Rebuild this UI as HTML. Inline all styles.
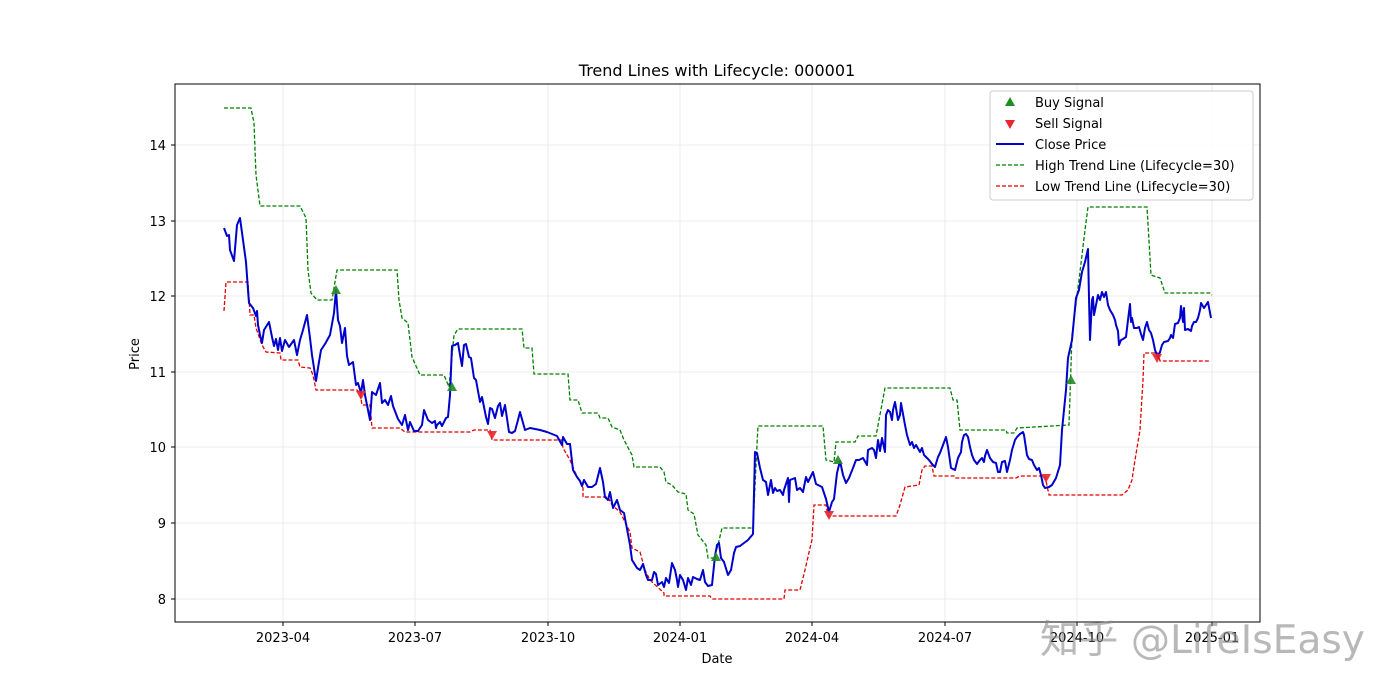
<!DOCTYPE html>
<html><head><meta charset="utf-8"><style>body{margin:0;background:#fff}svg{display:block}text{font-family:"DejaVu Sans","Liberation Sans",sans-serif}</style></head><body>
<svg width="1400" height="700" viewBox="0 0 1400 700" xmlns="http://www.w3.org/2000/svg">
<rect width="1400" height="700" fill="#fff"/>
<g stroke="#e6e6e6" stroke-width="0.8">
<line x1="283" y1="84" x2="283" y2="622"/><line x1="415" y1="84" x2="415" y2="622"/><line x1="548" y1="84" x2="548" y2="622"/><line x1="680" y1="84" x2="680" y2="622"/><line x1="812" y1="84" x2="812" y2="622"/><line x1="945" y1="84" x2="945" y2="622"/><line x1="1077" y1="84" x2="1077" y2="622"/><line x1="1212" y1="84" x2="1212" y2="622"/>
<line x1="175" y1="145" x2="1260" y2="145"/><line x1="175" y1="221" x2="1260" y2="221"/><line x1="175" y1="296" x2="1260" y2="296"/><line x1="175" y1="372" x2="1260" y2="372"/><line x1="175" y1="447" x2="1260" y2="447"/><line x1="175" y1="523" x2="1260" y2="523"/><line x1="175" y1="599" x2="1260" y2="599"/>
</g>
<g fill="none" stroke-width="1.3" stroke-dasharray="4,2">
<polyline stroke="#008000" points="224,108 251,108 254,123 256,175 260,206 300,206 306,218 308,270 311,293 317,300 332,300 337,270 397,270 399,300 402,318 408,323 410,340 412,357 420,375 444,375 449,387 454,335 458,329 522,329 524,348 532,348 534,374 568,374 570,400 578,400 582,413 598,413 600,418 608,418 612,427 620,430 624,440 632,455 634,467 660,467 664,472 666,482 672,485 678,492 686,494 688,510 694,514 698,535 706,545 708,558 714,558 718,545 722,528 753,528 757,445 758,426 823,426 826,460 834,462 836,442 855,442 858,436 876,436 885,388 950,388 953,400 957,400 960,430 1006,430 1007,433 1014,433 1017,428 1069,425 1072,335 1079,280 1085,230 1088,207 1147,207 1151,275 1160,278 1165,293 1210,293 1212,295"/>
<polyline stroke="#e00000" points="224,311 226,282 248,282 250,315 254,315 256,328 262,345 266,352 280,353 281,360 298,360 300,367 310,368 313,375 316,390 357,390 360,393 362,405 370,405 372,428 400,428 405,432 470,432 474,430 490,430 492,440 562,440 563,448 570,460 575,472 583,488 583,497 608,497 612,505 620,512 630,532 632,548 640,552 645,570 650,580 664,593 664,596 710,596 712,599 784,599 785,590 800,590 805,570 810,548 812,540 814,505 826,505 828,516 896,516 900,505 905,487 919,485 922,470 925,466 932,466 934,476 954,476 955,478 1016,478 1020,476 1045,476 1049,495 1122,495 1128,490 1132,480 1135,460 1140,430 1143,380 1144,353 1158,353 1160,361 1210,361"/>
</g>
<polyline fill="none" stroke="#0000cc" stroke-width="2" stroke-linejoin="round" points="224,228 227,236 229,235 230,250 234,261 237,225 240,218 243,240 246,262 248,290 249,303 253,308 256,316 257,311 258,325 260,335 262,343 264,330 269,322 272,337 274,346 276,339 278,350 280,338 282,351 285,340 289,347 294,340 297,355 300,340 303,330 307,315 310,338 312,355 316,381 318,368 321,350 325,344 330,335 334,313 336,290 338,320 340,326 342,343 345,328 347,356 349,365 353,362 356,385 358,383 361,393 363,380 365,395 370,420 372,392 376,395 380,383 382,403 385,400 388,405 391,396 393,406 398,419 402,425 405,415 408,430 410,422 414,431 418,431 422,425 424,410 428,420 432,423 435,421 436,428 437,425 440,422 442,426 446,418 448,417 450,395 452,346 455,345 458,343 460,355 462,366 464,345 466,344 469,357 471,358 474,378 476,380 480,402 482,397 486,417 488,424 490,408 492,409 495,418 498,406 500,403 502,416 505,405 509,432 512,433 515,431 518,420 520,412 525,430 530,428 540,430 547,432 557,436 562,445 563,437 567,444 570,444 573,470 577,477 580,481 582,486 584,480 588,487 592,487 596,484 600,468 603,482 605,497 608,500 610,492 613,508 617,500 620,510 624,513 630,545 632,560 637,568 640,570 643,564 646,575 648,580 652,580 654,572 656,574 658,585 662,582 664,587 666,578 669,583 672,563 675,570 677,580 678,587 680,575 683,580 686,590 688,578 691,585 693,577 697,579 700,580 703,570 705,582 708,586 712,585 715,556 717,545 719,543 721,558 724,562 728,575 731,570 734,553 736,547 740,546 748,540 753,534 755,452 757,453 760,468 763,480 766,482 768,495 771,480 773,493 775,488 777,491 780,490 783,495 784,490 788,478 789,502 790,480 795,478 797,490 800,488 803,492 806,477 808,482 813,472 816,484 822,487 826,499 829,512 832,502 834,499 837,473 840,461 843,475 846,483 849,478 853,468 856,460 859,460 863,458 867,465 868,450 872,448 874,450 876,458 878,440 880,451 882,438 885,452 886,415 888,410 890,412 892,420 893,410 895,402 898,420 900,415 901,403 905,425 907,435 910,445 912,442 914,448 916,445 920,452 922,448 924,455 927,458 929,460 932,464 935,467 938,457 940,453 943,445 946,437 948,447 951,468 955,470 958,458 961,452 962,442 964,435 966,434 968,437 970,447 972,455 974,460 977,464 980,460 982,458 984,462 985,456 987,450 990,458 993,462 996,463 998,472 1000,472 1002,462 1005,461 1007,472 1010,460 1012,450 1015,440 1017,437 1020,434 1023,432 1024,435 1027,455 1029,459 1032,460 1034,465 1037,470 1039,468 1041,475 1043,485 1045,488 1049,487 1052,485 1056,478 1060,465 1062,430 1066,390 1068,358 1072,340 1076,298 1079,290 1082,272 1085,262 1088,249 1089,298 1090,340 1092,300 1093,297 1094,315 1096,305 1098,295 1100,300 1102,292 1104,297 1106,292 1108,305 1110,310 1113,315 1115,320 1116,325 1118,331 1119,345 1121,340 1123,339 1126,337 1128,320 1130,304 1131,322 1132,318 1134,328 1137,328 1139,327 1141,334 1143,340 1145,328 1147,322 1149,330 1151,333 1153,340 1155,350 1158,358 1160,352 1162,345 1164,342 1168,341 1170,338 1171,335 1173,338 1175,324 1178,323 1180,318 1181,306 1183,322 1184,308 1185,330 1188,329 1191,331 1192,326 1194,322 1196,322 1198,318 1200,310 1201,303 1204,308 1206,305 1208,302 1211,318"/>
<g fill="#228b22" fill-opacity="0.9">
<path d="M336,285 l5,9 h-10z"/><path d="M452,382 l5,9 h-10z"/><path d="M716,552 l5,9 h-10z"/><path d="M838,455 l5,9 h-10z"/><path d="M1071,375 l5,9 h-10z"/>
</g>
<g fill="#e8262b" fill-opacity="0.9">
<path d="M361,400 l5,-9 h-10z"/><path d="M492,440 l5,-9 h-10z"/><path d="M829,520 l5,-9 h-10z"/><path d="M1046,483 l5,-9 h-10z"/><path d="M1157,363 l5,-9 h-10z"/>
</g>
<rect x="175" y="84" width="1085" height="538" fill="none" stroke="#000" stroke-width="1"/>
<g stroke="#000"><line x1="283" y1="622" x2="283" y2="626"/><line x1="415" y1="622" x2="415" y2="626"/><line x1="548" y1="622" x2="548" y2="626"/><line x1="680" y1="622" x2="680" y2="626"/><line x1="812" y1="622" x2="812" y2="626"/><line x1="945" y1="622" x2="945" y2="626"/><line x1="1077" y1="622" x2="1077" y2="626"/><line x1="1212" y1="622" x2="1212" y2="626"/>
<line x1="171" y1="145" x2="175" y2="145"/><line x1="171" y1="221" x2="175" y2="221"/><line x1="171" y1="296" x2="175" y2="296"/><line x1="171" y1="372" x2="175" y2="372"/><line x1="171" y1="447" x2="175" y2="447"/><line x1="171" y1="523" x2="175" y2="523"/><line x1="171" y1="599" x2="175" y2="599"/></g>
<g font-size="13" fill="#000" text-anchor="middle">
<text x="283" y="642">2023-04</text><text x="415" y="642">2023-07</text><text x="548" y="642">2023-10</text><text x="680" y="642">2024-01</text><text x="812" y="642">2024-04</text><text x="945" y="642">2024-07</text><text x="1077" y="642">2024-10</text><text x="1212" y="642">2025-01</text>
<text x="717" y="663">Date</text>
<text x="717" y="76" font-size="16">Trend Lines with Lifecycle: 000001</text>
</g>
<g font-size="13" fill="#000" text-anchor="end">
<text x="166" y="150">14</text><text x="166" y="226">13</text><text x="166" y="301">12</text><text x="166" y="377">11</text><text x="166" y="452">10</text><text x="166" y="528">9</text><text x="166" y="604">8</text>
</g>
<text x="139" y="354" font-size="13" text-anchor="middle" transform="rotate(-90 139 354)">Price</text>
<rect x="990" y="91" width="263" height="109" rx="3" fill="#fff" fill-opacity="0.85" stroke="#ccc"/>
<path d="M1010,97 l5,9 h-10z" fill="#228b22"/>
<path d="M1010,129 l5,-9 h-10z" fill="#e8262b"/>
<line x1="996" y1="144" x2="1024" y2="144" stroke="#0000cc" stroke-width="2"/>
<line x1="996" y1="165" x2="1024" y2="165" stroke="#008000" stroke-width="1.3" stroke-dasharray="4,2"/>
<line x1="996" y1="186" x2="1024" y2="186" stroke="#e00000" stroke-width="1.3" stroke-dasharray="4,2"/>
<g font-size="13" fill="#000">
<text x="1035" y="107">Buy Signal</text><text x="1035" y="128">Sell Signal</text><text x="1035" y="149">Close Price</text><text x="1035" y="170">High Trend Line (Lifecycle=30)</text><text x="1035" y="191">Low Trend Line (Lifecycle=30)</text>
</g>
<text x="1040" y="653" font-size="39" textLength="325" lengthAdjust="spacingAndGlyphs" fill="#888" fill-opacity="0.6" font-family="'Liberation Sans','Noto Sans CJK SC',sans-serif">知乎 @LifeIsEasy</text>
</svg>
</body></html>
